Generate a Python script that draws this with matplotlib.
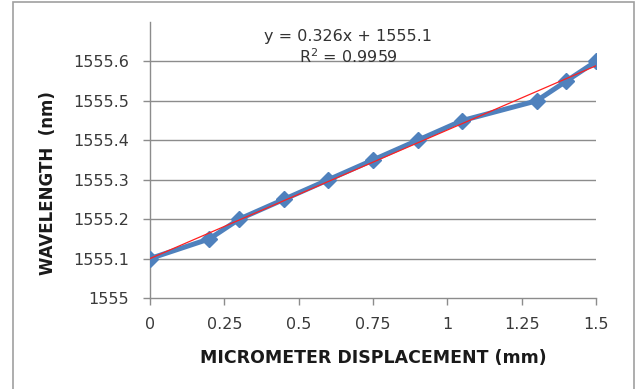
import numpy as np
import matplotlib.pyplot as plt
from matplotlib.patches import Rectangle

# micrometer displacement (mm) vs wavelength (nm)
displacement = [0, 0.2, 0.3, 0.45, 0.6, 0.75, 0.9, 1.05, 1.3, 1.4, 1.5]
wavelength = [1555.1, 1555.15, 1555.2, 1555.25, 1555.3, 1555.35, 1555.4, 1555.45, 1555.5, 1555.55, 1555.6]
slope = 0.326
intercept = 1555.1
r2 = 0.9959

x_ticks = [0, 0.25, 0.5, 0.75, 1, 1.25, 1.5]
x_tick_labels = ['0', '0.25', '0.5', '0.75', '1', '1.25', '1.5']
y_ticks = [1555, 1555.1, 1555.2, 1555.3, 1555.4, 1555.5, 1555.6]
y_tick_labels = ['1555', '1555.1', '1555.2', '1555.3', '1555.4', '1555.5', '1555.6']

plt.rcParams['font.family'] = ['DejaVu Sans']

fig = plt.figure(figsize=(6.37, 3.89), dpi=100)
ax = fig.add_axes([150 / 637, 1 - 298 / 389, 446 / 637, 276 / 389])

# chart frame
fig.patches.append(Rectangle((13 / 637, -0.01), 621 / 637, 1 - 2 / 389 + 0.01,
                             transform=fig.transFigure, fill=False,
                             edgecolor='#a0a0a0', linewidth=1.2))

for yv in y_ticks[1:]:
    ax.axhline(yv, color='#8c8c8c', linewidth=1.0, zorder=1)

ax.plot(displacement, wavelength, color='#4f81bd', linewidth=3.6,
        marker='D', markersize=8, zorder=3)

xs = np.array([displacement[0], displacement[-1]])
ax.plot(xs, slope * xs + intercept, color='#ff2020', linewidth=0.9, zorder=4)

ax.set_xlim(0, 1.5)
ax.set_ylim(1555, 1555.7)
ax.set_xticks(x_ticks)
ax.set_xticklabels(x_tick_labels)
ax.set_yticks(y_ticks)
ax.set_yticklabels(y_tick_labels)
ax.tick_params(axis='both', colors='#8c8c8c', labelcolor='#3a3a3a', labelsize=11.5,
               direction='out', length=5, width=1.0)
ax.tick_params(axis='x', pad=9)
ax.tick_params(axis='y', pad=10)

for s in ['top', 'right']:
    ax.spines[s].set_visible(False)
for s in ['left', 'bottom']:
    ax.spines[s].set_color('#8c8c8c')
    ax.spines[s].set_linewidth(1.0)

ax.set_xlabel('MICROMETER DISPLACEMENT (mm)', fontsize=12.5, fontweight='bold',
              color='#1a1a1a', labelpad=12)
ax.set_ylabel('WAVELENGTH  (nm)', fontsize=12, fontweight='bold',
              color='#1a1a1a')
ax.yaxis.set_label_coords(-0.2085, 0.417)

ax.text(0.667, 1555.662, f'y = {slope}x + {intercept}', fontsize=11.5,
        color='#333333', ha='center', va='center')
ax.text(0.667, 1555.611, f'R$^2$ = {r2}', fontsize=11.5,
        color='#333333', ha='center', va='center')

fig.savefig('out.png', dpi=100)
